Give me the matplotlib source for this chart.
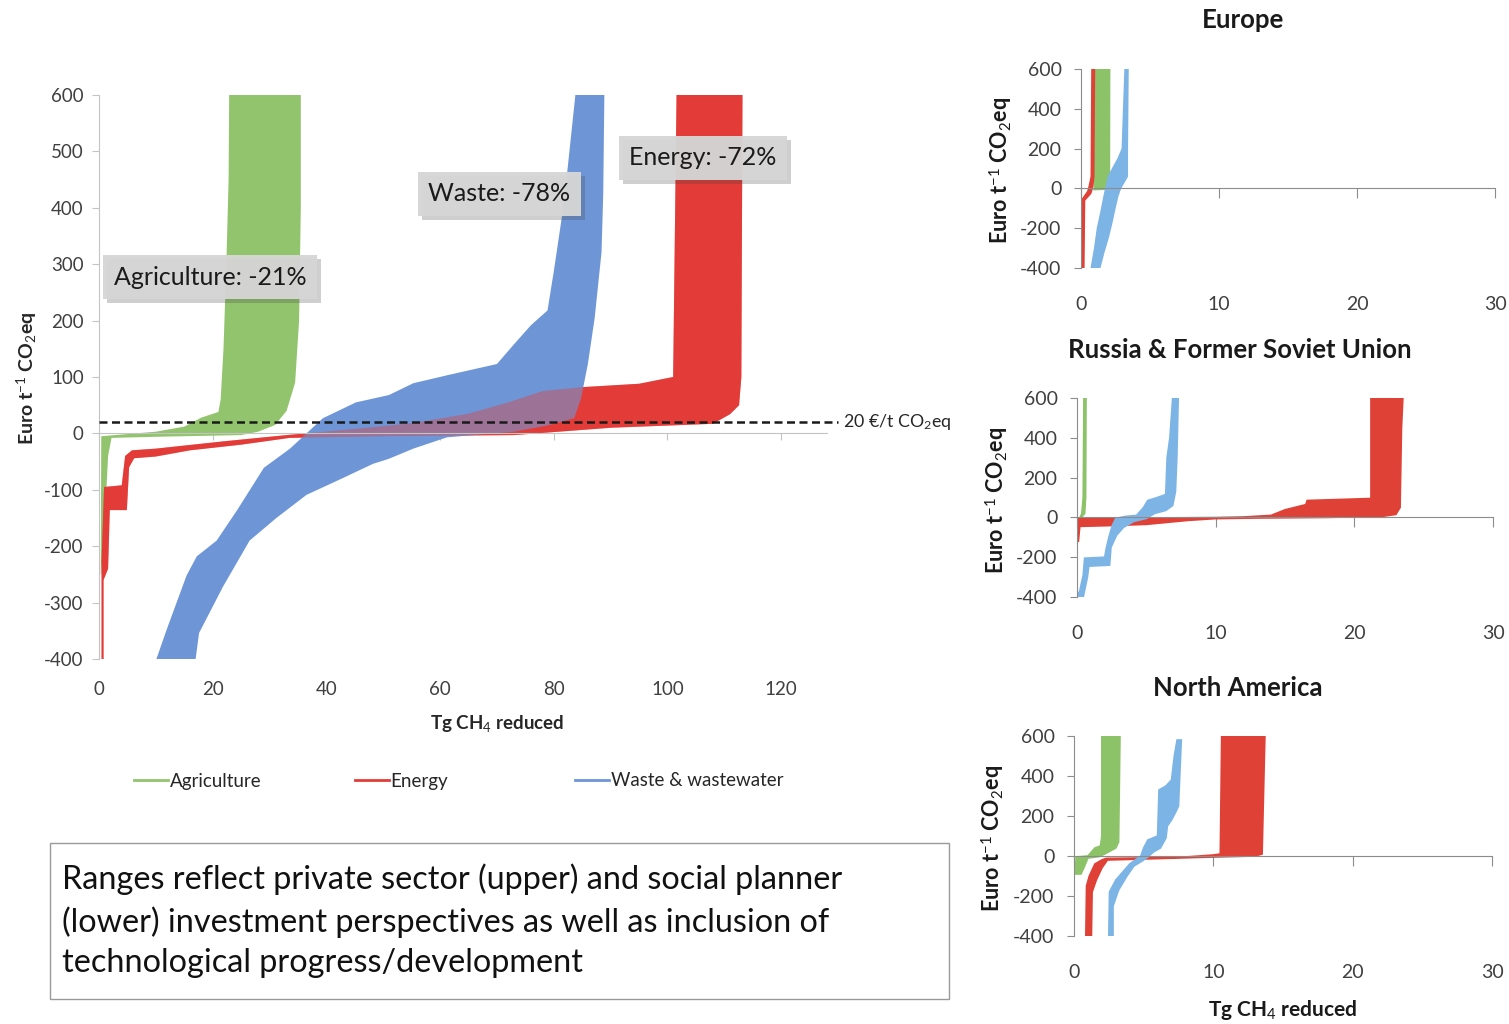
import matplotlib
matplotlib.use("Agg")
import matplotlib.pyplot as plt
from matplotlib import patheffects
from matplotlib.lines import Line2D
from matplotlib.patches import Rectangle

plt.rcParams["font.family"] = ["Lato", "DejaVu Sans"]
plt.rcParams["mathtext.fontset"] = "custom"
plt.rcParams["mathtext.rm"] = "Lato"
plt.rcParams["mathtext.it"] = "Lato:italic"
plt.rcParams["mathtext.bf"] = "Lato:bold"

# ---------------------------------------------------------------- data
# Global marginal abatement cost bands: each sector is bounded by an
# upper (private sector) curve and a lower (social planner) curve,
# cumulative Tg CH4 reduced vs. cost in Euro per t CO2eq.
MAIN_XTICKS = [0, 20, 40, 60, 80, 100, 120]
MAIN_YTICKS = [-400, -300, -200, -100, 0, 100, 200, 300, 400, 500, 600]
SMALL_XTICKS = [0, 10, 20, 30]
SMALL_YTICKS = [-400, -200, 0, 200, 400, 600]
THRESHOLD = 20

SECTORS = ["Agriculture", "Energy", "Waste & wastewater"]
SHARES = ["Agriculture: -21%", "Energy: -72%", "Waste: -78%"]

# World
AGR_HI_X = [0.3, 0.4, 10, 15, 18, 21, 21.4, 21.9, 22.4, 22.8, 22.9]
AGR_HI_Y = [-250, -5, 3, 12, 28, 38, 60, 150, 300, 450, 600]
AGR_LO_X = [0.4, 1.2, 1.6, 2.2, 10, 25, 28, 31, 33, 34.5, 35.2, 35.5, 35.5]
AGR_LO_Y = [-250, -120, -40, -8, -6, -3, 3, 15, 40, 90, 200, 400, 600]

ENE_HI_X = [0.45, 0.45, 0.9, 4.0, 4.6, 5.8, 10, 22, 33, 45, 55, 65, 72, 78,
            85, 95, 101, 101.6]
ENE_HI_Y = [-400, -225, -95, -92, -40, -30, -27, -14, -3, 8, 18, 35, 55, 75,
            82, 88, 100, 600]
ENE_LO_X = [0.8, 0.8, 1.6, 1.9, 4.9, 5.3, 6.2, 10, 16, 25, 33.5, 50, 73, 90,
            108, 111, 112.6, 113, 113.2]
ENE_LO_Y = [-400, -260, -240, -136, -136, -60, -44, -41, -30, -20, -8, -5,
            -3, 10, 17, 34, 50, 100, 600]

WST_HI_X = [10.1, 11.9, 15.4, 17.2, 20.7, 24.3, 29, 33.6, 39.4, 45.2, 51,
            55.3, 61.2, 70, 73, 76, 78.9, 80, 81.5, 82.3, 83.8]
WST_HI_Y = [-400, -348, -252, -218, -190, -136, -61, -27, 27, 55, 68, 89,
            103, 123, 158, 192, 218, 287, 389, 457, 600]
WST_LO_X = [17, 17.6, 21.8, 26.5, 31.2, 36.5, 42.3, 48.2, 51, 55.3, 61.2, 73,
            78.9, 83.6, 84.8, 86, 87.2, 88.4, 88.7, 88.9]
WST_LO_Y = [-400, -354, -272, -190, -150, -109, -82, -54, -45, -27, -7, 3,
            14, 27, 62, 123, 205, 321, 424, 600]

# Europe
EU_AGR_HI_X = [0.9, 1.0, 1.02]
EU_AGR_HI_Y = [-5, 0, 600]
EU_AGR_LO_X = [0.95, 2.0, 2.05, 2.07]
EU_AGR_LO_Y = [-6, -3, 10, 600]
EU_ENE_HI_X = [0.05, 0.1, 0.5, 0.6, 0.75, 0.8]
EU_ENE_HI_Y = [-400, -55, -15, 10, 60, 600]
EU_ENE_LO_X = [0.2, 0.25, 0.7, 0.85, 0.92, 0.97]
EU_ENE_LO_Y = [-400, -60, -25, 10, 60, 600]
EU_WST_HI_X = [0.75, 1.0, 1.2, 1.45, 1.65, 1.8, 2.0, 2.3, 2.7, 3.0, 3.1, 3.2]
EU_WST_HI_Y = [-400, -300, -200, -120, -50, 0, 60, 100, 150, 200, 400, 600]
EU_WST_LO_X = [1.35, 1.65, 1.95, 2.2, 2.45, 2.65, 2.85, 3.1, 3.35, 3.35, 3.4]
EU_WST_LO_Y = [-400, -320, -250, -180, -100, -40, 0, 30, 60, 200, 600]

# Russia & Former Soviet Union
RU_AGR_HI_X = [0.2, 0.35, 0.45, 0.5]
RU_AGR_HI_Y = [-5, 20, 100, 600]
RU_AGR_LO_X = [0.25, 0.55, 0.62, 0.65]
RU_AGR_LO_Y = [-5, 20, 100, 600]
RU_ENE_HI_X = [0.0, 0.05, 5, 10, 12, 14, 15, 16.5, 16.6, 21.2, 21.2]
RU_ENE_HI_Y = [-120, -5, -3, -1, 2, 10, 38, 64, 85, 95, 600]
RU_ENE_LO_X = [0.1, 0.2, 2, 5, 8, 10, 13, 18, 22, 23, 23.3, 23.4, 23.5]
RU_ENE_LO_Y = [-120, -45, -42, -35, -15, -6, -3, 0, 5, 15, 50, 450, 600]
RU_WST_HI_X = [0.0, 0.2, 0.45, 0.55, 2.0, 2.1, 2.3, 2.55, 2.8, 3.5, 4.3, 4.8,
               5.1, 5.8, 6.4, 6.5, 6.7, 6.9]
RU_WST_HI_Y = [-400, -370, -290, -205, -200, -160, -100, -40, -5, 5, 10, 50,
               85, 100, 115, 300, 400, 600]
RU_WST_LO_X = [0.45, 0.75, 0.85, 2.35, 2.45, 2.85, 3.35, 4.1, 5.0, 5.6, 6.4,
               6.9, 7.1, 7.2, 7.3]
RU_WST_LO_Y = [-400, -300, -245, -240, -150, -90, -50, -20, -5, 20, 35, 60,
               130, 300, 600]

# North America
NA_AGR_HI_X = [0.1, 0.15, 1.0, 1.5, 1.9, 2.0, 2.0]
NA_AGR_HI_Y = [-90, -5, 0, 40, 50, 100, 600]
NA_AGR_LO_X = [0.5, 0.7, 1.0, 1.8, 2.2, 3.0, 3.2, 3.3]
NA_AGR_LO_Y = [-90, -60, -10, -3, 10, 40, 70, 600]
NA_ENE_HI_X = [0.85, 0.9, 1.1, 1.5, 2.0, 2.3, 5, 8, 10, 10.5, 10.6]
NA_ENE_HI_Y = [-400, -150, -100, -40, -20, -12, -10, -5, 5, 10, 600]
NA_ENE_LO_X = [1.25, 1.3, 1.6, 2.0, 2.4, 5, 10, 13, 13.5, 13.7]
NA_ENE_LO_Y = [-400, -180, -120, -60, -20, -15, -5, 0, 10, 600]
NA_WST_HI_X = [2.5, 2.55, 3.0, 3.5, 4.0, 4.5, 4.8, 5.0, 5.3, 6.0, 6.1, 6.6,
               7.0, 7.2, 7.4]
NA_WST_HI_Y = [-400, -180, -120, -80, -40, -15, 0, 40, 80, 100, 330, 350,
               380, 500, 580]
NA_WST_LO_X = [2.8, 2.8, 3.2, 3.8, 4.3, 5.0, 5.3, 5.7, 6.2, 6.6, 6.7, 7.0,
               7.3, 7.5, 7.7]
NA_WST_LO_Y = [-400, -250, -170, -100, -50, -20, -5, 20, 40, 90, 150, 180,
               220, 250, 580]

# ---------------------------------------------------------------- style
GREEN, RED, BLUE = "#92c46e", "#e33c38", "#6e96d7"
S_GREEN, S_RED, S_BLUE = "#8cc369", "#e04137", "#7db4e6"
TICK_CLR = "#404040"

W, H = 1509, 1024
fig = plt.figure(figsize=(W / 100, H / 100), dpi=100)
fig.patch.set_facecolor("white")


def axes_px(left, top, right, bottom):
    return fig.add_axes([left / W, 1 - bottom / H, (right - left) / W,
                         (bottom - top) / H])


def band(ax, hx, hy, lx, ly, color, edge=0.0, **kw):
    xs = list(hx) + list(lx)[::-1]
    ys = list(hy) + list(ly)[::-1]
    return ax.fill(xs, ys, fc=color, ec=color, lw=edge, **kw)


def style_axes(ax, xmax, xticks, yticks, spine_clr, fs, ypad, xpad,
               xbound=None):
    ax.set_xlim(0, xmax)
    ax.set_ylim(-400, 600)
    for s in ("top", "right"):
        ax.spines[s].set_visible(False)
    ax.spines["left"].set_color(spine_clr)
    ax.spines["bottom"].set_color(spine_clr)
    ax.spines["bottom"].set_position(("data", 0))
    if xbound is not None:
        ax.spines["bottom"].set_bounds(0, xbound)
    ax.set_yticks(yticks)
    ax.set_yticklabels([str(v) for v in yticks])
    ax.set_xticks(xticks)
    ax.tick_params(axis="y", direction="out", length=5, color=spine_clr,
                   labelsize=fs, labelcolor=TICK_CLR, pad=ypad)
    ax.tick_params(axis="x", direction="out", length=5, color=spine_clr,
                   labelbottom=False)
    sec = ax.secondary_xaxis("bottom")
    sec.set_xticks(xticks)
    sec.set_xticklabels([str(v) for v in xticks])
    sec.tick_params(length=0, labelsize=fs, labelcolor=TICK_CLR, pad=xpad)
    sec.spines["bottom"].set_visible(False)
    ax.set_facecolor("none")


# ---------------------------------------------------------------- main panel
ax = axes_px(99, 95, 838, 659)
style_axes(ax, 130, MAIN_XTICKS, MAIN_YTICKS, "#c4c4c4", 13.5, 6, 16,
           xbound=128)

band(ax, AGR_HI_X, AGR_HI_Y, AGR_LO_X, AGR_LO_Y, GREEN, zorder=2)
band(ax, ENE_HI_X, ENE_HI_Y, ENE_LO_X, ENE_LO_Y, RED, zorder=2.1)
band(ax, WST_HI_X, WST_HI_Y, WST_LO_X, WST_LO_Y, BLUE, zorder=2.2)
band(ax, ENE_HI_X, ENE_HI_Y, ENE_LO_X, ENE_LO_Y, RED, alpha=0.4, zorder=2.3)

ax.axhline(THRESHOLD, color="#1a1a1a", lw=1.8, dashes=(3.2, 1.8), zorder=4,
           clip_on=False)
ax.text(1.0068, THRESHOLD, "20 €/t CO$_2$eq", transform=ax.get_yaxis_transform(),
        ha="left", va="center", fontsize=12.8, color="#262626")

box_kw = dict(boxstyle="square,pad=0.42", fc="#d6d6d6", ec="none", alpha=0.8)
share_pos = [(19.5, 277), (106.2, 489), (70.4, 425)]
for label, (bx, by) in zip(SHARES, share_pos):
    t = ax.text(bx, by, label, ha="center", va="center", fontsize=18,
                color="#1a1a1a", bbox=dict(box_kw), zorder=6)
    t.get_bbox_patch().set_path_effects(
        [patheffects.withSimplePatchShadow(offset=(3, -3), alpha=0.25),
         patheffects.Normal()])

fig.text(27 / W, 1 - 378 / H, r"Euro t$^{-1}$ CO$_2$eq", rotation=90,
         ha="center", va="center", fontsize=14, fontweight="bold",
         color="#262626")
fig.text(497 / W, 1 - 723 / H, r"Tg CH$_4$ reduced", ha="center",
         va="center", fontsize=13.5, fontweight="bold", color="#262626")

# legend entries
for name, clr, lx in zip(SECTORS, [GREEN, RED, BLUE], [134, 355, 575]):
    fig.legend(handles=[Line2D([], [], color=clr, lw=2)], labels=[name],
               loc="center left", bbox_to_anchor=(lx / W, 1 - 781 / H),
               frameon=False, fontsize=13.5, handlelength=1.8,
               handletextpad=0.1, borderpad=0, borderaxespad=0,
               labelcolor="#262626")

# note box
fig.add_artist(Rectangle((50 / W, 1 - 999 / H), 899 / W, 156 / H,
                         transform=fig.transFigure, fill=False,
                         ec="#9a9a9a", lw=1.0))
fig.text(62 / W, 1 - 921 / H,
         "Ranges reflect private sector (upper) and social planner\n"
         "(lower) investment perspectives as well as inclusion of\n"
         "technological progress/development",
         ha="left", va="center", fontsize=23.3, linespacing=1.43,
         color="#111111")

# ---------------------------------------------------------------- regions
regions = [
    ("Europe", (1081, 69, 1495, 268), 1243, 20, 1001, 170,
     (EU_AGR_HI_X, EU_AGR_HI_Y, EU_AGR_LO_X, EU_AGR_LO_Y),
     (EU_ENE_HI_X, EU_ENE_HI_Y, EU_ENE_LO_X, EU_ENE_LO_Y),
     (EU_WST_HI_X, EU_WST_HI_Y, EU_WST_LO_X, EU_WST_LO_Y)),
    ("Russia & Former Soviet Union", (1077, 398, 1493, 597), 1240, 350,
     997, 500,
     (RU_AGR_HI_X, RU_AGR_HI_Y, RU_AGR_LO_X, RU_AGR_LO_Y),
     (RU_ENE_HI_X, RU_ENE_HI_Y, RU_ENE_LO_X, RU_ENE_LO_Y),
     (RU_WST_HI_X, RU_WST_HI_Y, RU_WST_LO_X, RU_WST_LO_Y)),
    ("North America", (1074, 736, 1492, 936), 1238, 688, 993, 838,
     (NA_AGR_HI_X, NA_AGR_HI_Y, NA_AGR_LO_X, NA_AGR_LO_Y),
     (NA_ENE_HI_X, NA_ENE_HI_Y, NA_ENE_LO_X, NA_ENE_LO_Y),
     (NA_WST_HI_X, NA_WST_HI_Y, NA_WST_LO_X, NA_WST_LO_Y)),
]

for title, rect, tx, ty, lx, ly, agr, ene, wst in regions:
    sax = axes_px(*rect)
    style_axes(sax, 30, SMALL_XTICKS, SMALL_YTICKS, "#8c8c8c", 14, 9, 20)
    sax.tick_params(axis="x", length=7)
    band(sax, *agr, S_GREEN, edge=1.2, zorder=2)
    band(sax, *ene, S_RED, edge=1.2, zorder=2.1)
    band(sax, *wst, S_BLUE, edge=1.2, zorder=2.2)
    fig.text(tx / W, 1 - ty / H, title, ha="center", va="center",
             fontsize=18.5, fontweight="bold", color="#1a1a1a")
    fig.text(lx / W, 1 - ly / H, r"Euro t$^{-1}$ CO$_2$eq", rotation=90,
             ha="center", va="center", fontsize=15.5, fontweight="bold",
             color="#1a1a1a")

fig.text(1283 / W, 1 - 1010 / H, r"Tg CH$_4$ reduced", ha="center",
         va="center", fontsize=15, fontweight="bold", color="#1a1a1a")

fig.savefig("out.png", dpi=100, facecolor="white")
